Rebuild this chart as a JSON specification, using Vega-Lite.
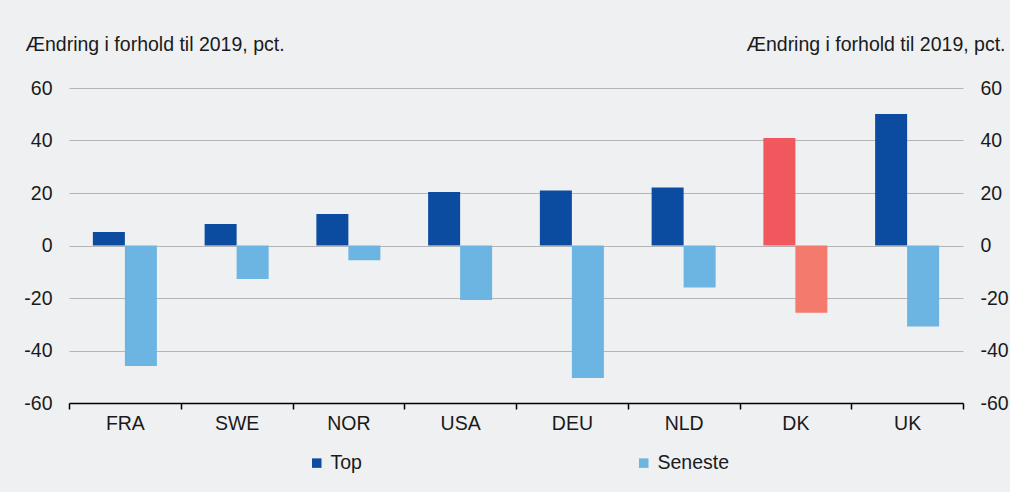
{
  "$schema": "https://vega.github.io/schema/vega-lite/v6.json",
  "width": 894,
  "height": 315,
  "autosize": {"type": "none"},
  "padding": {"left": 69, "top": 88, "right": 47, "bottom": 89},
  "background": "#eff0f2",
  "config": {
    "view": {"stroke": null},
    "font": "Liberation Sans",
    "axis": {"labelFont": "Liberation Sans", "titleFont": "Liberation Sans", "labelColor": "#1a1a1a", "titleColor": "#1a1a1a", "labelFontSize": 19.5, "titleFontSize": 19.5, "titleFontWeight": "normal"},
    "legend": {"labelFont": "Liberation Sans", "labelFontSize": 19.5, "labelColor": "#1a1a1a"}
  },
  "data": {
    "values": [
      {"land": "FRA", "serie": "Top", "farve": "Top", "vaerdi": 5.1},
      {"land": "FRA", "serie": "Seneste", "farve": "Seneste", "vaerdi": -45.9},
      {"land": "SWE", "serie": "Top", "farve": "Top", "vaerdi": 8.2},
      {"land": "SWE", "serie": "Seneste", "farve": "Seneste", "vaerdi": -12.8},
      {"land": "NOR", "serie": "Top", "farve": "Top", "vaerdi": 12.0},
      {"land": "NOR", "serie": "Seneste", "farve": "Seneste", "vaerdi": -5.6},
      {"land": "USA", "serie": "Top", "farve": "Top", "vaerdi": 20.4},
      {"land": "USA", "serie": "Seneste", "farve": "Seneste", "vaerdi": -20.8},
      {"land": "DEU", "serie": "Top", "farve": "Top", "vaerdi": 21.0},
      {"land": "DEU", "serie": "Seneste", "farve": "Seneste", "vaerdi": -50.5},
      {"land": "NLD", "serie": "Top", "farve": "Top", "vaerdi": 22.1},
      {"land": "NLD", "serie": "Seneste", "farve": "Seneste", "vaerdi": -16.0},
      {"land": "DK", "serie": "Top", "farve": "Top DK", "vaerdi": 41.0},
      {"land": "DK", "serie": "Seneste", "farve": "Seneste DK", "vaerdi": -25.6},
      {"land": "UK", "serie": "Top", "farve": "Top", "vaerdi": 50.1},
      {"land": "UK", "serie": "Seneste", "farve": "Seneste", "vaerdi": -30.9}
    ]
  },
  "encoding": {
    "x": {
      "field": "land", "type": "nominal", "sort": null,
      "scale": {"paddingInner": 0, "paddingOuter": 0},
      "axis": {"title": null, "labelAngle": 0, "domainColor": "#000000", "domainWidth": 1.5, "tickColor": "#000000", "tickSize": 6, "tickWidth": 1.5, "tickBand": "extent", "labelPadding": 5, "grid": false}
    }
  },
  "layer": [
    {
      "mark": {"type": "bar"},
      "encoding": {
        "xOffset": {"field": "serie", "type": "nominal", "sort": ["Top", "Seneste"], "scale": {"paddingInner": 0, "paddingOuter": 0.746}},
        "y": {
          "field": "vaerdi", "type": "quantitative",
          "scale": {"domain": [-60, 60], "nice": false},
          "axis": {"orient": "left", "values": [-60, -40, -20, 0, 20, 40, 60], "labelExpr": "replace(datum.label, '−', '-')", "title": "Ændring i forhold til 2019, pct.", "titleAngle": 0, "titleAlign": "left", "titleBaseline": "alphabetic", "titleX": -44, "titleY": -38, "ticks": false, "domain": false, "labelPadding": 17, "grid": true, "gridColor": "#b4b4b4", "gridWidth": 1.2}
        },
        "color": {
          "field": "farve", "type": "nominal",
          "scale": {"domain": ["Top", "Seneste", "Top DK", "Seneste DK"], "range": ["#0b4ca0", "#6cb4e2", "#f0585e", "#f47a6d"]},
          "legend": {"values": ["Top", "Seneste"], "title": null, "orient": "none", "direction": "horizontal", "legendX": 238, "legendY": 365, "symbolType": "square", "symbolSize": 90, "symbolStrokeWidth": 0, "labelOffset": 4, "columnPadding": 272}
        }
      }
    },
    {
      "mark": {"type": "rule", "color": "#000000", "strokeWidth": 1.5},
      "encoding": {
        "y": {
          "datum": 0, "type": "quantitative",
          "axis": {"orient": "right", "values": [-60, -40, -20, 0, 20, 40, 60], "labelExpr": "replace(datum.label, '−', '-')", "title": "Ændring i forhold til 2019, pct.", "titleAngle": 0, "titleAlign": "right", "titleBaseline": "alphabetic", "titleX": 42, "titleY": -38, "ticks": false, "domain": false, "labelPadding": 17, "labelAlign": "left", "grid": false}
        }
      }
    }
  ],
  "resolve": {"axis": {"y": "independent"}}
}
